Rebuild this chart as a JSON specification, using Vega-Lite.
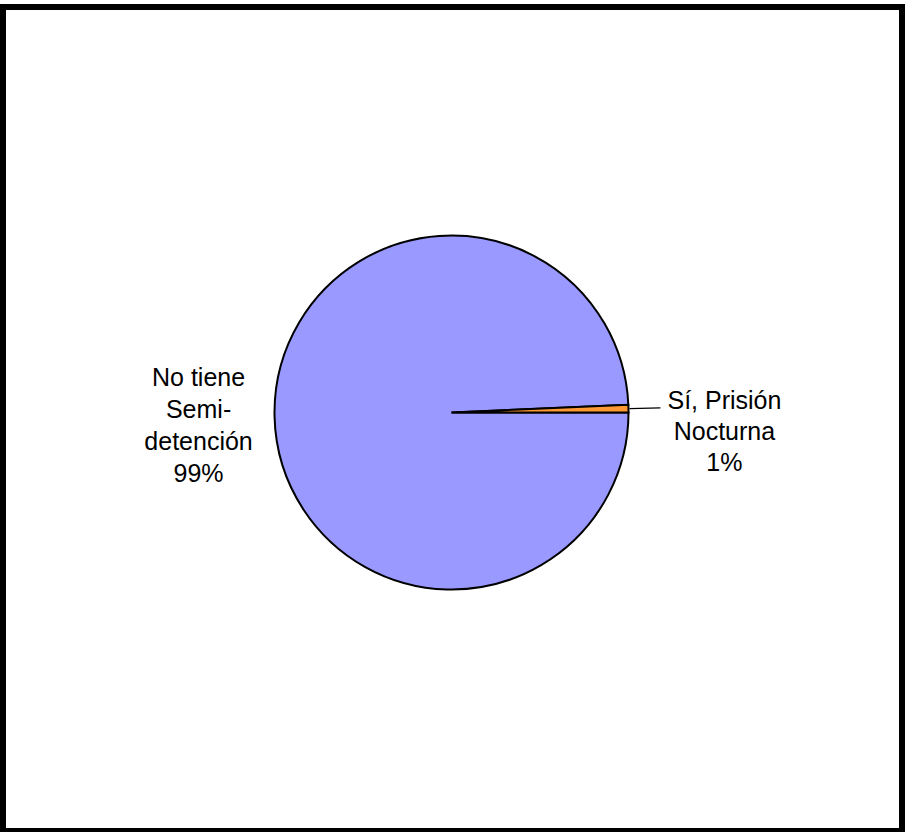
{
  "$schema": "https://vega.github.io/schema/vega-lite/v6.json",
  "autosize": {"type": "fit", "contains": "padding"},
  "width": 906,
  "height": 832,
  "padding": {"left": 3, "top": 7, "right": 4, "bottom": 1},
  "background": "white",
  "view": {"stroke": "black", "strokeWidth": 6, "fill": "white"},
  "config": {
    "view": {"stroke": "black", "strokeWidth": 6, "fill": "white"},
    "text": {"font": "Liberation Sans", "fontSize": 25}
  },
  "data": {
    "values": [
      {"categoria": "No tiene Semi-detención", "valor": 99.3, "etiqueta": ["No tiene", "Semi-", "detención", "99%"]},
      {"categoria": "Sí, Prisión Nocturna", "valor": 0.7, "etiqueta": ["Sí, Prisión", "Nocturna", "1%"]}
    ]
  },
  "encoding": {
    "theta": {"field": "valor", "type": "quantitative", "stack": true, "scale": {"range": [1.5707963, 7.8539816]}},
    "order": {"field": "categoria", "sort": "ascending"}
  },
  "layer": [
    {
      "mark": {"type": "arc", "outerRadius": 177, "stroke": "black", "strokeWidth": 2, "yOffset": -6.5, "xOffset": -1},
      "encoding": {
        "color": {
          "field": "categoria",
          "type": "nominal",
          "scale": {"domain": ["No tiene Semi-detención", "Sí, Prisión Nocturna"], "range": ["#9999FF", "#FF9933"]},
          "legend": null
        }
      }
    },
    {
      "mark": {"type": "arc", "innerRadius": 178, "outerRadius": 209, "padAngle": 0.5, "fill": "black", "stroke": "black", "strokeWidth": 1.3, "yOffset": -6.5, "xOffset": -1},
      "encoding": {
        "opacity": {"condition": {"test": "datum.categoria === 'Sí, Prisión Nocturna'", "value": 1}, "value": 0}
      }
    },
    {
      "mark": {"type": "text", "radius": 253, "align": "center", "baseline": "middle", "lineHeight": 32, "yOffset": -47, "xOffset": -1, "color": "black"},
      "encoding": {
        "text": {"condition": {"test": "datum.categoria === 'No tiene Semi-detención'", "field": "etiqueta"}, "value": ""}
      }
    },
    {
      "mark": {"type": "text", "radius": 273, "align": "center", "baseline": "middle", "lineHeight": 31, "yOffset": -12, "xOffset": -1, "color": "black"},
      "encoding": {
        "text": {"condition": {"test": "datum.categoria === 'Sí, Prisión Nocturna'", "field": "etiqueta"}, "value": ""}
      }
    }
  ]
}
